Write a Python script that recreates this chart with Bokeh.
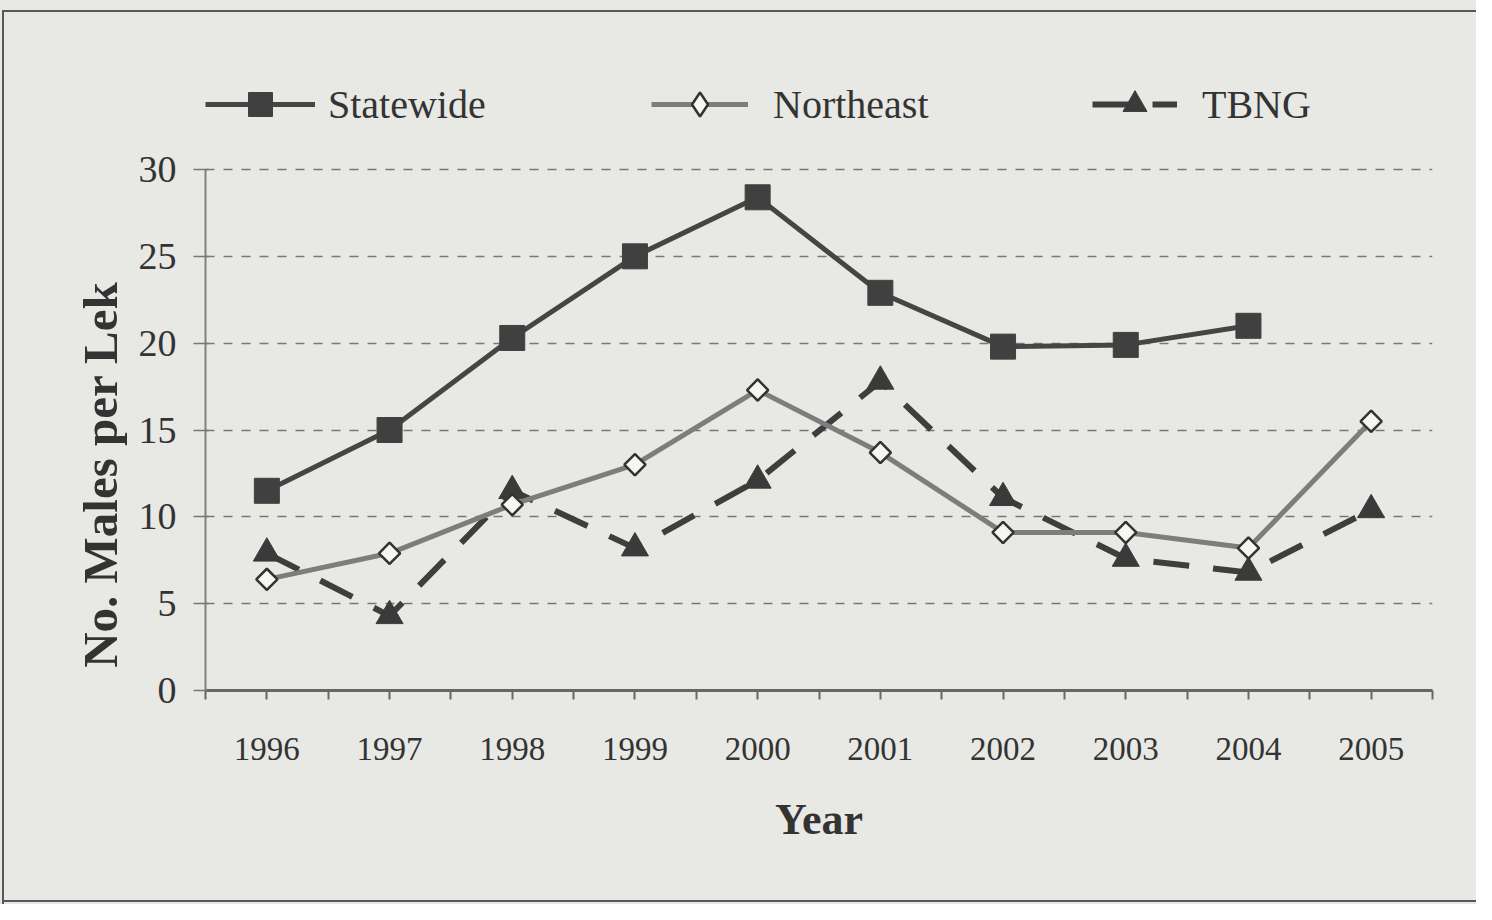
from bokeh.plotting import figure
from bokeh.models import Legend, LegendItem, FixedTicker, Range1d
from bokeh.embed import file_html
from bokeh.resources import INLINE

# ---- data ----
years = [1996, 1997, 1998, 1999, 2000, 2001, 2002, 2003, 2004, 2005]
statewide = [11.5, 15.0, 20.3, 25.0, 28.4, 22.9, 19.8, 19.9, 21.0, float("nan")]
northeast = [6.4, 7.9, 10.7, 13.0, 17.3, 13.7, 9.1, 9.1, 8.2, 15.5]
tbng = [7.9, 4.3, 11.5, 8.2, 12.1, 17.8, 11.1, 7.6, 6.8, 10.4]
y_ticks = [0, 5, 10, 15, 20, 25, 30]
series_names = ["Statewide", "Northeast", "TBNG"]

BG = "#e8e8e4"
SERIF = "Liberation Serif"
NB = "\u00a0"

# frame: y=0 at 690px, y=30 at 169px (figure px); top of frame at 50px leaves room for legend
PX_PER_UNIT = (690 - 169) / 30.0
Y_TOP = 30 + (169 - 50) / PX_PER_UNIT

p = figure(width=1476, height=904,
           x_range=Range1d(1995.5, 2005.5), y_range=Range1d(0, Y_TOP),
           output_backend="svg", toolbar_location=None,
           min_border_left=205, min_border_right=44,
           min_border_top=50, min_border_bottom=214,
           background_fill_color=BG, border_fill_color=BG,
           border_fill_alpha=0)
p.outline_line_color = None
# page-like box (left, top and bottom rules) behind the transparent canvas border
p.styles = {
    "background": ("linear-gradient(#585858,#585858) 2px 10px / 2px calc(100% - 10px) no-repeat, "
                   "linear-gradient(#585858,#585858) 2px 10px / 100% 2px no-repeat, "
                   "linear-gradient(#585858,#585858) 2px calc(100% - 2px) / 100% 2px no-repeat, "
                   + BG),
}

# grid
p.xgrid.visible = False
p.ygrid.grid_line_color = "#777777"
p.ygrid.grid_line_width = 1.5
p.ygrid.grid_line_dash = "9 9"

# x axis: ticks at categories and between them
x_tick_pos = []
overrides = {}
for yr in years:
    x_tick_pos.append(yr - 0.5)
    x_tick_pos.append(float(yr))
    overrides[yr - 0.5] = ""
    overrides[float(yr)] = str(yr)
x_tick_pos.append(years[-1] + 0.5)
overrides[years[-1] + 0.5] = ""
p.xaxis.ticker = FixedTicker(ticks=x_tick_pos)
p.xaxis.major_label_overrides = overrides
p.xaxis.minor_tick_line_color = None
p.xaxis.major_tick_in = 0
p.xaxis.major_tick_out = 9
p.xaxis.major_tick_line_color = "#666666"
p.xaxis.major_tick_line_width = 2
p.xaxis.axis_line_color = "#666666"
p.xaxis.axis_line_width = 3
p.xaxis.major_label_text_font = SERIF
p.xaxis.major_label_text_font_size = "33px"
p.xaxis.major_label_text_color = "#333333"
p.xaxis.major_label_standoff = 38
p.xaxis.axis_label = "Year"
p.xaxis.axis_label_text_font = SERIF
p.xaxis.axis_label_text_font_style = "bold"
p.xaxis.axis_label_text_font_size = "44px"
p.xaxis.axis_label_text_color = "#333333"
p.xaxis.axis_label_standoff = 32

# y axis (line only from 0 to 30)
p.yaxis.bounds = (y_ticks[0], y_ticks[-1])
p.yaxis.ticker = FixedTicker(ticks=y_ticks)
p.yaxis.minor_tick_line_color = None
p.yaxis.major_tick_in = 3
p.yaxis.major_tick_out = 12
p.yaxis.major_tick_line_color = "#777777"
p.yaxis.major_tick_line_width = 1.5
p.yaxis.axis_line_color = "#808080"
p.yaxis.axis_line_width = 2
p.yaxis.major_label_text_font = SERIF
p.yaxis.major_label_text_font_size = "38px"
p.yaxis.major_label_text_color = "#333333"
p.yaxis.major_label_standoff = 17
p.yaxis.axis_label = "No. Males per Lek" + NB * 17
p.yaxis.axis_label_text_font = SERIF
p.yaxis.axis_label_text_font_style = "bold"
p.yaxis.axis_label_text_font_size = "49px"
p.yaxis.axis_label_text_color = "#333333"
p.yaxis.axis_label_standoff = 8

# series
t_line = p.line(years, tbng, line_color="#3e3e3e", line_width=6, line_dash="36 24")
t_pts = p.scatter(years, tbng, marker="triangle", size=27,
                  fill_color="#3a3a3a", line_color="#3a3a3a")
n_line = p.line(years, northeast, line_color="#7d7d7d", line_width=5)
# diamond glyph (also serves as the legend swatch), covered by the rotated squares
n_key = p.scatter(years, northeast, marker="diamond", size=21,
                  fill_color="#f6f6f2", line_color="#333333", line_width=2.5)
n_pts = p.scatter(years, northeast, marker="square", angle=0.785398, size=15,
                  fill_color="#f6f6f2", line_color="#333333", line_width=2.5)
s_line = p.line(years, statewide, line_color="#454545", line_width=5)
s_pts = p.scatter(years, statewide, marker="square", size=25,
                  fill_color="#404040", line_color="#404040")

# one legend per entry, placed above the data area
legend_specs = [
    (series_names[0], [s_line, s_pts], 0, 110, 13),
    (series_names[1], [n_line, n_key], 446, 97, 25),
    (series_names[2], [t_line, t_pts], 887, 85, 25),
]
for name, rends, lx, gw, stand in legend_specs:
    lg = Legend(items=[LegendItem(label=name, renderers=rends)],
                location=(lx, 556), glyph_width=gw, glyph_height=60,
                label_height=40, label_standoff=stand, padding=0, margin=0,
                background_fill_alpha=0, border_line_alpha=0,
                label_text_font=SERIF, label_text_font_size="40px",
                label_text_color="#333333")
    p.add_layout(lg, "center")

open("out.html", "w").write(file_html(p, INLINE))
